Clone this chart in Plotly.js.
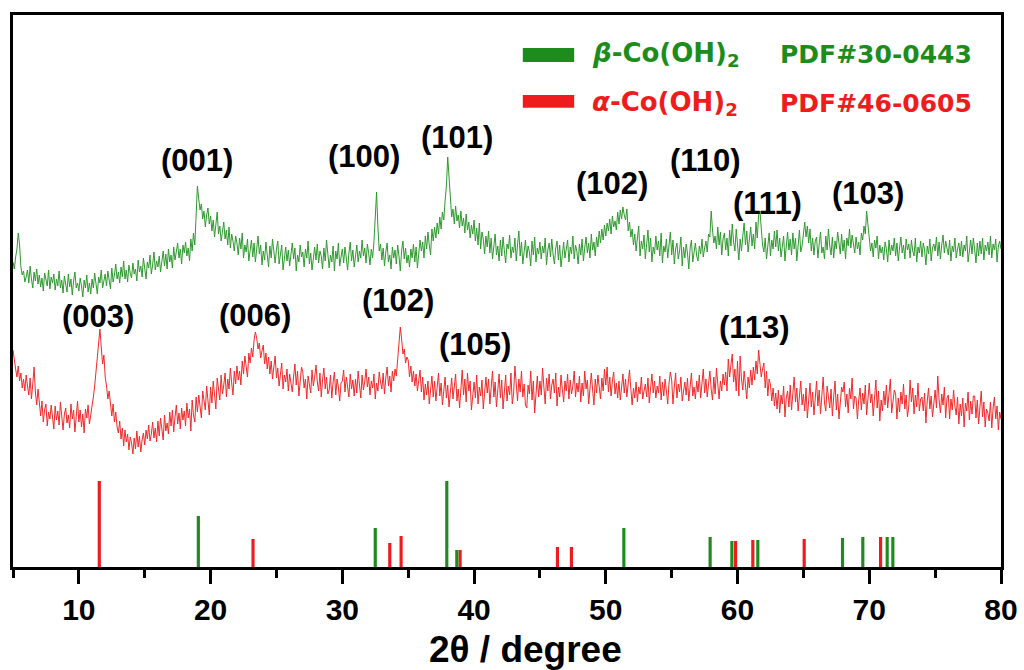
<!DOCTYPE html>
<html><head><meta charset="utf-8">
<script src="https://cdn.plot.ly/plotly-3.0.1.min.js"></script>
<style>html,body{margin:0;padding:0;background:#fff}#chart{width:1024px;height:670px}</style>
</head><body><div id="chart"></div>
<script>
// 2θ grid of the measured patterns (degree)
const two_theta_start = 5, two_theta_step = 0.1;

// beta-Co(OH)2 sample pattern (a.u., offset trace), one row per degree
const beta_counts = [
305,298,310,318,334,322,300,292,296,285,
290,297,284,301,288,279,295,286,298,283,
292,280,289,276,294,285,281,297,278,290,
284,293,277,288,281,296,279,287,274,291,
282,275,293,280,288,272,286,295,279,284,
276,289,281,270,287,279,292,275,284,273,
288,279,294,282,273,290,284,297,279,286,
293,281,296,287,278,299,285,292,303,288,
295,284,300,290,306,288,297,285,302,294,
289,304,293,298,286,307,295,301,290,309,
296,288,305,299,312,293,302,315,297,306,
300,311,295,308,316,301,313,298,318,305,
312,299,320,307,315,324,309,318,303,322,
314,325,311,319,306,328,316,334,322,346,
381,368,357,363,348,356,340,352,359,343,
351,336,347,330,344,355,333,341,326,339,
345,328,337,322,340,319,333,326,316,331,
324,312,329,318,334,309,322,315,328,306,
319,327,310,324,305,317,331,313,322,302,
316,307,325,312,300,321,309,328,314,304,
318,326,303,315,322,297,311,320,306,317,
301,313,324,308,319,296,312,305,322,310,
315,300,318,309,326,303,314,297,311,320,
307,323,304,316,311,298,319,306,327,313,
299,312,305,321,296,316,308,324,301,310,
318,304,320,309,297,314,325,306,317,300,
312,322,305,316,309,327,311,319,304,323,
314,302,318,309,325,352,375,340,316,323,
307,319,301,315,324,305,312,298,320,309,
317,303,322,311,296,316,326,308,319,304,
312,300,318,309,323,305,320,299,314,327,
316,325,309,331,318,335,322,312,338,326,
340,329,344,333,350,338,355,347,366,381,
410,392,366,350,358,343,361,346,352,339,
356,341,349,334,353,337,345,329,342,333,
347,326,339,322,344,318,335,328,313,331,
320,336,314,329,308,325,333,312,321,306,
327,311,330,316,304,323,318,332,309,320,
314,329,306,322,336,311,325,303,318,327,
309,321,315,301,326,312,330,305,319,313,
325,308,321,314,329,302,317,324,310,328,
312,303,319,326,307,322,300,316,325,309,
318,327,305,320,313,331,308,322,316,303,
323,312,328,306,319,330,314,324,309,333,
317,325,311,330,320,336,324,338,327,342,
331,344,336,348,333,351,340,346,337,355,
343,357,348,360,352,347,358,336,345,330,
338,322,333,316,329,341,311,326,318,332,
308,324,337,315,329,305,320,313,331,317,
326,311,334,304,321,315,328,309,323,335,
312,327,303,318,324,308,316,330,301,320,
309,323,314,298,319,327,305,316,324,311,
306,321,313,328,310,319,326,315,333,330,
356,337,324,331,318,340,322,335,312,328,
334,317,329,311,337,321,343,325,316,338,
319,307,328,316,331,344,322,336,315,327,
340,321,333,318,345,329,352,356,334,322,
315,329,308,326,334,311,327,318,336,320,
337,316,329,310,324,331,306,322,335,317,
328,312,334,318,329,306,325,337,315,321,
333,345,330,341,324,338,316,329,312,326,
330,309,323,335,314,320,308,331,317,338,
321,312,330,309,326,318,335,322,313,333,
316,327,308,329,321,338,319,332,325,314,
330,318,325,312,334,327,341,333,356,338,
329,316,324,310,327,319,331,308,322,314,
320,307,325,318,305,327,312,322,316,329,
311,324,306,319,330,314,322,308,328,317,
323,309,327,316,311,329,305,320,314,326,
310,324,317,302,321,313,328,306,319,323,
316,330,311,325,308,322,332,314,326,319,
312,327,306,321,315,329,309,318,324,311,
326,310,322,316,331,305,320,327,313,329,
318,304,324,311,326,313,329,307,322,316,
325,312,331,309,323,317,328,305,321,326,
318
];

// alpha-Co(OH)2 sample pattern (a.u., offset trace), one row per degree
const alpha_counts = [
217,205,198,190,201,186,194,179,188,176,
192,181,172,189,168,183,200,175,162,178,
160,151,166,145,157,163,141,155,148,162,
150,138,161,147,156,142,165,151,137,153,
159,144,152,139,163,148,157,135,150,166,
145,157,140,153,134,158,149,162,143,151,
160,170,181,196,212,228,238,220,203,212,
190,181,168,176,160,151,163,145,155,140,
134,146,128,139,121,137,125,133,117,130,
124,113,129,118,136,120,131,115,127,134,
122,137,128,142,126,133,145,129,139,125,
146,131,149,138,127,152,136,144,133,155,
141,157,135,150,162,143,154,138,159,147,
156,141,164,149,158,136,167,152,145,170,
155,172,160,149,176,163,157,181,166,152,
180,164,186,171,158,189,175,167,192,173,
182,194,170,188,178,199,184,172,196,183,
201,187,196,182,206,193,211,198,190,214,
204,219,210,227,235,229,218,224,209,216,
222,203,214,198,210,193,206,188,201,211,
189,199,181,194,204,178,192,185,198,176,
193,184,175,190,203,182,196,171,188,200,
195,179,188,168,191,183,174,197,181,190,
202,185,176,194,170,187,199,178,190,173,
177,192,169,185,195,172,188,180,166,184,
186,197,175,190,181,170,193,178,187,171,
188,174,196,181,169,192,177,185,198,180,
190,172,186,179,193,168,184,176,195,185,
178,194,173,189,200,181,191,175,196,186,
198,191,209,222,240,228,213,218,204,210,
207,190,201,185,196,181,193,176,188,197,
175,190,167,183,172,186,163,179,191,170,
186,166,180,194,171,184,162,178,190,169,
182,160,176,189,168,181,193,166,178,159,
181,197,172,188,165,194,176,186,157,174,
185,169,192,163,180,171,187,158,177,190,
174,188,163,182,196,170,185,160,179,193,
169,187,158,177,192,166,181,172,194,163,
173,201,180,166,188,175,196,170,183,162,
159,182,173,196,167,186,154,178,191,170,
186,172,199,180,163,189,176,193,168,182,
188,174,194,161,180,170,192,178,165,186,
176,193,168,187,173,181,196,170,184,175,
191,165,184,171,196,178,187,163,181,194,
177,162,188,174,192,180,168,189,176,198,
182,200,175,190,171,186,195,173,184,169,
186,167,181,193,174,188,170,184,197,178,
162,179,169,185,165,180,173,190,168,176,
183,170,189,164,180,193,174,186,169,181,
174,191,167,185,171,188,176,163,184,195,
187,163,180,194,169,183,175,190,166,178,
185,172,189,166,183,194,171,180,168,186,
175,192,169,186,198,174,188,170,183,196,
178,167,190,173,199,181,168,186,176,193,
182,195,176,208,190,202,213,185,198,176,
206,171,211,188,177,196,182,168,190,179,
197,182,200,187,206,193,217,203,190,198,
204,179,196,171,188,182,166,179,161,174,
158,177,154,172,163,181,150,169,176,160,
182,157,175,190,165,179,156,171,186,162,
173,156,179,149,168,184,160,175,152,170,
186,161,177,153,172,190,164,156,181,168,
159,178,151,170,186,157,173,148,166,180,
175,185,160,173,154,179,168,189,158,171,
169,148,167,179,157,174,163,182,152,170,
184,164,173,151,170,187,159,176,146,167,
156,176,162,182,159,171,188,154,168,177,
173,148,169,155,175,163,183,158,172,150,
161,187,165,179,153,172,160,184,156,168,
170,156,174,144,166,179,158,171,150,164,
177,159,191,167,154,173,162,180,149,169,
172,148,168,157,177,161,152,170,143,163,
151,169,140,164,156,175,147,166,153,171,
171,149,167,143,162,176,150,165,140,158,
154,146,165,139,159,170,148,161,137,155,
148
];

// Standard reference lines
const beta_ref_pos = [19.07, 32.50, 37.93, 38.69, 51.37, 57.92, 59.57, 61.54, 67.97, 69.51, 71.36, 71.79];
const beta_ref_int = [51, 39, 86, 17, 39, 30, 26, 27, 29, 30, 30, 30];
const alpha_ref_pos = [11.55, 23.22, 33.60, 34.46, 38.94, 46.33, 47.39, 59.85, 61.16, 65.06, 70.86];
const alpha_ref_int = [86, 28, 24, 31, 17, 20, 20, 26, 27, 28, 30];

// Miller index labels
const beta_planes = ['(001)', '(100)', '(101)', '(102)', '(110)', '(111)', '(103)'];
const alpha_planes = ['(003)', '(006)', '(102)', '(105)', '(113)'];

const xTickVals = [10, 20, 30, 40, 50, 60, 70, 80];
const xMinorVals = [5, 15, 25, 35, 45, 55, 65, 75];

const GREEN = '#1c8c1c', RED = '#ee1c1c';
const ARIAL = 'Liberation Sans, Arial, sans-serif';
const WIDE = 'DejaVu Sans, Verdana, sans-serif';

const xs = beta_counts.map((_, i) => +(two_theta_start + i * two_theta_step).toFixed(2));
const xa = alpha_counts.map((_, i) => +(two_theta_start + i * two_theta_step).toFixed(2));

const traces = [
  {type: 'scatter', mode: 'lines', x: xs, y: beta_counts, line: {color: '#2e9a2e', width: 1}, name: 'β-Co(OH)2'},
  {type: 'scatter', mode: 'lines', x: xa, y: alpha_counts, line: {color: '#f02a2a', width: 1}, name: 'α-Co(OH)2'},
  {type: 'bar', x: alpha_ref_pos, y: alpha_ref_int, width: 0.24, marker: {color: RED, line: {width: 0}}, name: 'PDF#46-0605'},
  {type: 'bar', x: beta_ref_pos, y: beta_ref_int, width: 0.24, marker: {color: GREEN, line: {width: 0}}, name: 'PDF#30-0443'}
];

// label placement (data coords)
const betaLabelPos = [[18.97, 407], [31.65, 411], [38.7, 430], [50.5, 384], [57.6, 407], [62.3, 364], [69.9, 374]];
const alphaLabelPos = [[11.45, 251], [23.4, 252], [34.2, 267], [40.1, 223], [61.3, 240]];

const annotations = [];
beta_planes.forEach((t, i) => annotations.push({xref: 'x', yref: 'y', x: betaLabelPos[i][0], y: betaLabelPos[i][1], text: t, showarrow: false, xanchor: 'center', yanchor: 'middle', font: {family: ARIAL, size: 31, weight: 'bold', color: '#000'}}));
alpha_planes.forEach((t, i) => annotations.push({xref: 'x', yref: 'y', x: alphaLabelPos[i][0], y: alphaLabelPos[i][1], text: t, showarrow: false, xanchor: 'center', yanchor: 'middle', font: {family: ARIAL, size: 31, weight: 'bold', color: '#000'}}));

// legend-like block
annotations.push({xref: 'paper', yref: 'paper', x: 0.584, y: 0.929, xanchor: 'left', yanchor: 'middle', showarrow: false,
  text: '<i>β</i>-Co(OH)<sub>2</sub>', font: {family: WIDE, size: 26, weight: 'bold', color: GREEN}});
annotations.push({xref: 'paper', yref: 'paper', x: 0.774, y: 0.929, xanchor: 'left', yanchor: 'middle', showarrow: false,
  text: 'PDF#30-0443', font: {family: WIDE, size: 25, weight: 'bold', color: GREEN}});
annotations.push({xref: 'paper', yref: 'paper', x: 0.584, y: 0.840, xanchor: 'left', yanchor: 'middle', showarrow: false,
  text: '<i>α</i>-Co(OH)<sub>2</sub>', font: {family: WIDE, size: 26, weight: 'bold', color: RED}});
annotations.push({xref: 'paper', yref: 'paper', x: 0.774, y: 0.840, xanchor: 'left', yanchor: 'middle', showarrow: false,
  text: 'PDF#46-0605', font: {family: WIDE, size: 25, weight: 'bold', color: RED}});

// x axis title
annotations.push({xref: 'paper', yref: 'paper', x: 0.519, y: -0.150, xanchor: 'center', yanchor: 'middle', showarrow: false,
  text: '2θ / degree', font: {family: ARIAL, size: 37, weight: 'bold', color: '#000'}});

const shapes = [
  {type: 'rect', xref: 'paper', yref: 'paper', x0: 0.516, x1: 0.568, y0: 0.915, y1: 0.940, fillcolor: GREEN, line: {width: 0}},
  {type: 'rect', xref: 'paper', yref: 'paper', x0: 0.516, x1: 0.568, y0: 0.832, y1: 0.855, fillcolor: RED, line: {width: 0}}
];

const layout = {
  width: 1024, height: 670,
  margin: {l: 13, r: 23, t: 15, b: 103, pad: 0},
  paper_bgcolor: '#fff', plot_bgcolor: '#fff',
  showlegend: false,
  barmode: 'overlay',
  xaxis: {
    range: [5, 80], tickmode: 'array', tickvals: xTickVals, ticktext: xTickVals.map(String),
    ticks: 'outside', ticklen: 14, tickwidth: 3, tickcolor: '#000',
    showline: true, linewidth: 3, linecolor: '#000', mirror: true,
    showgrid: false, zeroline: false,
    tickfont: {family: ARIAL, size: 30, weight: 'bold', color: '#000'},
    minor: {tickmode: 'array', tickvals: xMinorVals, ticks: 'outside', ticklen: 8, tickwidth: 3, tickcolor: '#000', showgrid: false}
  },
  yaxis: {
    range: [0, 552], showline: true, linewidth: 3, linecolor: '#000', mirror: true,
    showticklabels: false, ticks: '', showgrid: false, zeroline: false
  },
  annotations: annotations,
  shapes: shapes
};

Plotly.newPlot('chart', traces, layout, {staticPlot: true, displayModeBar: false});
</script>
</body></html>
